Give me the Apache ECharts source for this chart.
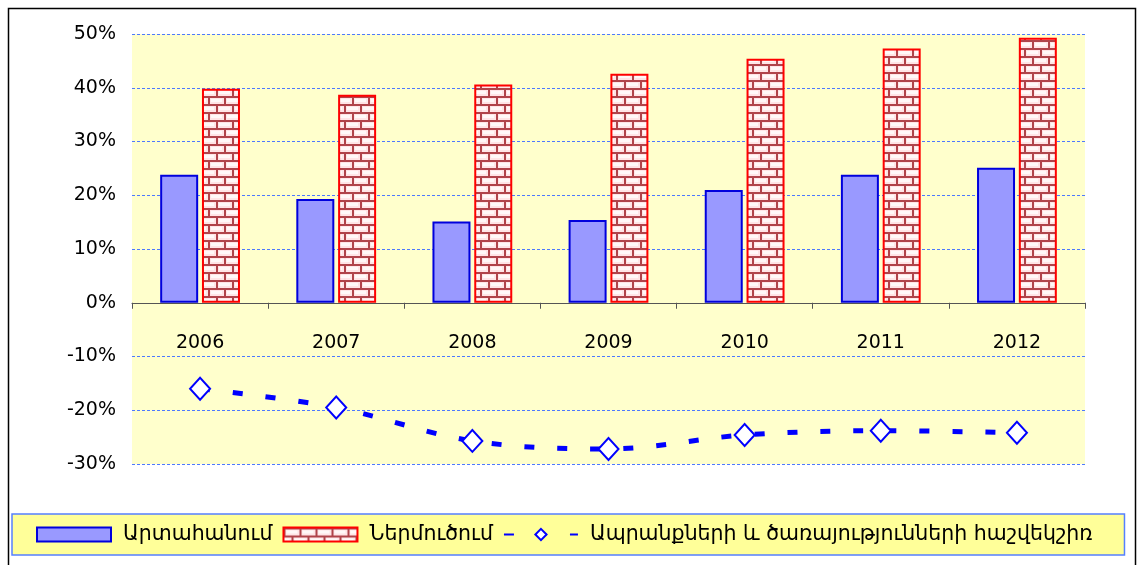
<!DOCTYPE html>
<html><head><meta charset="utf-8">
<script src="https://cdn.jsdelivr.net/npm/echarts@6/dist/echarts.min.js"></script>
<style>html,body{margin:0;padding:0;background:#fff}#c{width:1139px;height:565px}</style>
</head><body><div id="c"></div>
<script>
const years = ['2006','2007','2008','2009','2010','2011','2012'];
const exportsShare = [23.8, 19.3, 15.1, 15.4, 21.0, 23.8, 25.1];
const importsShare = [39.8, 38.7, 40.6, 42.6, 45.4, 47.3, 49.3];
const balance = [-16.0, -19.5, -25.7, -27.2, -24.6, -23.8, -24.2];
const yTicks = {min: -30, max: 50, step: 10};
const names = ['Արտահանում', 'Ներմուծում', 'Ապրանքների և ծառայությունների հաշվեկշիռ'];

function brick(){
  const c = document.createElement('canvas');
  c.width = 16; c.height = 16;
  const g = c.getContext('2d');
  g.fillStyle = '#FFE4E6'; g.fillRect(0,0,16,16);
  g.fillStyle = '#FFF8F8'; g.fillRect(3,3,11,3); g.fillRect(11,11,5,3); g.fillRect(0,11,6,3);
  g.fillStyle = '#B0434A';
  g.fillRect(0,0,16,2); g.fillRect(0,8,16,2);
  g.fillRect(0,0,2,8); g.fillRect(8,8,2,8);
  return c;
}
const pat = {image: brick(), repeat: 'repeat'};
const font = 'DejaVu Sans';
const gridTop = 34, gridBottom = 101, H = 565;
const plotH = H - gridTop - gridBottom;
const zeroOffset = plotH * yTicks.max / (yTicks.max - yTicks.min);
const chart = echarts.init(document.getElementById('c'), null, {renderer:'canvas'});
chart.setOption({
  animation: false,
  backgroundColor: '#fff',
  graphic: [{type:'rect', left:6, top:6, shape:{width:1127, height:580}, style:{fill:'none', stroke:'#000', lineWidth:1.5}, silent:true, z:-1}],
  grid: {left:132, right:54, top:gridTop, bottom:gridBottom, show:true, backgroundColor:'#FFFFCC', borderWidth:0},
  legend: {
    left: 12, top: 514, padding:[10, 32, 10, 24],
    backgroundColor:'#FFFF99', borderColor:'#5580FF', borderWidth:1.5,
    itemWidth: 74, itemHeight: 14, itemGap: 10,
    textStyle: {fontFamily: font, fontSize: 20.5, color:'#000', padding:[0,0,0,7]},
    data: [{name:names[0], icon:'rect'}, {name:names[1], icon:'rect'}, {name:names[2]}]
  },
  xAxis: [{
    type:'category', data: years,
    axisLine:{onZero:true, lineStyle:{color:'#555', width:1}},
    axisTick:{show:true, alignWithLabel:false, length:6, lineStyle:{color:'#555'}},
    axisLabel:{show:false},
    splitLine:{show:false}
  },{
    type:'category', data: years, position:'top', offset: -zeroOffset,
    axisLine:{show:false}, axisTick:{show:false},
    axisLabel:{inside:true, margin:31, fontFamily:font, fontSize:19, color:'#000'},
    splitLine:{show:false}
  }],
  yAxis: {
    type:'value', min:yTicks.min, max:yTicks.max, interval:yTicks.step,
    axisLine:{show:false}, axisTick:{show:false},
    axisLabel:{formatter: v => v + '%', fontFamily:font, fontSize:19, color:'#000', margin:16},
    splitLine:{lineStyle:{color:'#4D79FF', type:[3,2], width:1}}
  },
  series: [
    {name:names[0], type:'bar', data: exportsShare, barWidth:38, barGap:'10%',
     itemStyle:{color:'#9999FF', borderColor:'#0000DD', borderWidth:2}},
    {name:names[1], type:'bar', data: importsShare, barWidth:38, barGap:'10%',
     itemStyle:{color:pat, borderColor:'#FF0000', borderWidth:2}},
    {name:names[2], type:'line', data: balance, smooth:0.35,
     symbol:'diamond', symbolSize:[20,22],
     itemStyle:{color:'#FFFFFF', borderColor:'#0000FF', borderWidth:2},
     lineStyle:{color:'#0000FF', width:5, type:[10,23]}, z:5}
  ]
});
</script></body></html>
